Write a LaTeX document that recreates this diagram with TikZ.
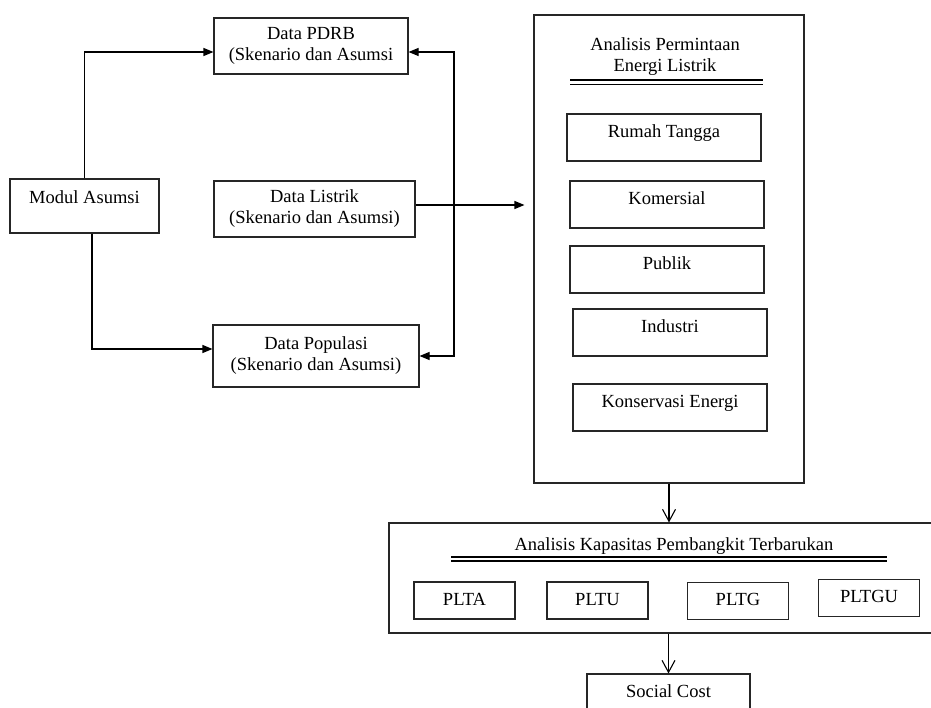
\documentclass[tikz,border=0pt]{standalone}
\usepackage{fontspec}
\setmainfont{Liberation Serif}
\usetikzlibrary{arrows.meta,calc}

\begin{document}
\begin{tikzpicture}[x=1pt,y=-1pt,line width=1.1pt,
    heading/.style={inner sep=0pt,align=center,font=\fontsize{18.5}{21}\selectfont},
    frame/.style={heading,draw=black!85,rectangle},
    box/.style={frame,text height=13pt,text depth=4pt},
    sub/.style={box,minimum width=194pt,minimum height=47pt,text depth=13pt},
    plt/.style={box,minimum width=101pt,minimum height=37pt},
    fill arrow/.style={-{Triangle[length=10pt,width=8pt]}},
    open arrow/.style={-{Straight Barb[length=12pt,width=13pt]}}]
  \useasboundingbox (0,0) rectangle (931,708);
  \clip (0,0) rectangle (931,708);

  % input data
  \node[box,minimum width=149pt,minimum height=54pt,text depth=17pt] (modul) at (84.5,206) {Modul Asumsi};
  \node[frame,minimum width=194pt,minimum height=56pt] (pdrb) at (311,46) {Data PDRB\\(Skenario dan Asumsi};
  \node[frame,minimum width=201pt,minimum height=56pt] (listrik) at (314.5,209) {Data Listrik\\(Skenario dan Asumsi)};
  \node[frame,minimum width=206pt,minimum height=62pt] (populasi) at (316,356) {Data Populasi\\(Skenario dan Asumsi)};

  % demand analysis
  \node[frame,minimum width=270pt,minimum height=468pt] (demand) at (669,249) {};
  \node[heading] (title1) at (665,57) {Analisis Permintaan\\Energi Listrik};
  \draw (570,80) -- (763,80);
  \draw (570,84.5) -- (763,84.5);
  \node[sub] (rumah)      at (664,137.5) {Rumah Tangga};
  \node[sub] (komersial)  at (667,204.5) {Komersial};
  \node[sub] (publik)     at (667,269.5) {Publik};
  \node[sub] (industri)   at (670,332.5) {Industri};
  \node[sub] (konservasi) at (670,407.5) {Konservasi Energi};

  % capacity analysis
  \node[frame,minimum width=561pt,minimum height=110pt] (kapasitas) at (669.5,578) {};
  \node[heading,text height=13pt,text depth=4pt] (title2) at (674,545.5) {Analisis Kapasitas Pembangkit Terbarukan};
  \draw (451,557) -- (887,557);
  \draw (451,561) -- (887,561);
  \node[plt] (plta)  at (464.5,600.5) {PLTA};
  \node[plt] (pltu)  at (597.5,600.5) {PLTU};
  \node[plt] (pltg)  at (738,601)     {PLTG};
  \node[plt] (pltgu) at (869,598)     {PLTGU};

  \node[box,minimum width=163pt,minimum height=38pt] (social) at (668.5,693) {Social Cost};

  % connectors
  \draw[fill arrow] (modul.north) |- ($(pdrb.west)+(0,6)$);
  \draw[fill arrow] ($(modul.south)+(7.5,0)$) |- ($(populasi.west)+(0,-7)$);
  \coordinate (back) at (454,200);
  \draw[{Triangle[length=10pt,width=8pt]}-{Triangle[length=10pt,width=8pt]}]
    ($(pdrb.east)+(0,6)$) -| (back) |- (populasi.east);
  \coordinate (l1) at ($(listrik.east)+(0,-4)$);
  \draw[fill arrow,shorten >=9pt] (l1) -- (l1 -| demand.west);
  \draw[open arrow] (demand.south) -- (demand.south |- kapasitas.north);
  \draw[open arrow] (kapasitas.south -| social.north) -- (social.north);
\end{tikzpicture}
\end{document}
